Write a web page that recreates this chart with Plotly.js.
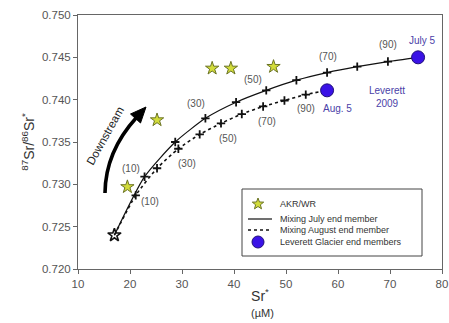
<!DOCTYPE html>
<html>
<head>
<meta charset="utf-8">
<script src="https://cdn.plot.ly/plotly-3.0.1.min.js"></script>
<style>html,body{margin:0;padding:0;background:#fff;}#chart{width:449px;height:323px;}</style>
</head>
<body>
<div id="chart"></div>
<script>
// ---- data ----
const julySr    = [17, 22.8, 28.7, 34.5, 40.4, 46.2, 52.0, 57.9, 63.7, 69.6, 75.4];
const julyRatio = [0.7240, 0.7309, 0.7350, 0.7378, 0.7397, 0.7411, 0.7423, 0.7432, 0.7439, 0.7445, 0.7450];
const augSr     = [17, 21.1, 25.2, 29.3, 33.4, 37.5, 41.5, 45.6, 49.7, 53.8, 57.9];
const augRatio  = [0.7240, 0.7287, 0.7319, 0.7342, 0.7359, 0.7372, 0.7383, 0.7392, 0.7399, 0.7406, 0.7411];
const akrSr     = [19.5, 25.2, 35.8, 39.4, 47.6];
const akrRatio  = [0.7297, 0.7376, 0.7437, 0.7437, 0.7439];
const levSr     = [75.4, 57.9];
const levRatio  = [0.7450, 0.7411];
const levNames  = ['July 5', 'Aug. 5'];
const pctLabels = ['(10)', '(30)', '(50)', '(70)', '(90)'];
const pctIndex  = [1, 3, 5, 7, 9];
const xTicks    = [10, 20, 30, 40, 50, 60, 70, 80];
const yTicks    = [0.720, 0.725, 0.730, 0.735, 0.740, 0.745, 0.750];

// ---- layout helpers (pixel -> paper) ----
const L = 78, R = 442, T = 15, B = 269;
const px = x => (x - L) / (R - L);
const py = y => (B - y) / (B - T);
const FONT = 'Arial, "Liberation Sans", sans-serif';
const GREY = '#555';
const BLUE_TXT = '#4b3fa8';

const traces = [
  {x: julySr, y: julyRatio, mode: 'lines', line: {color: '#111', width: 1.2, shape: 'spline', smoothing: 0.6},
   name: 'Mixing July end member'},
  {x: julySr.slice(1, -1), y: julyRatio.slice(1, -1), mode: 'markers',
   marker: {symbol: 'cross-thin', size: 6, color: '#111', line: {color: '#111', width: 1.8}}, showlegend: false},
  {x: augSr, y: augRatio, mode: 'lines', line: {color: '#111', width: 1.6, dash: 'dot', shape: 'spline', smoothing: 0.6},
   name: 'Mixing August end member'},
  {x: augSr.slice(1, -1), y: augRatio.slice(1, -1), mode: 'markers',
   marker: {symbol: 'cross-thin', size: 6, color: '#111', line: {color: '#111', width: 1.8}}, showlegend: false},
  {x: [julySr[0]], y: [julyRatio[0]], mode: 'markers',
   marker: {symbol: 'star-open', size: 10, color: '#111', line: {color: '#111', width: 1.6}}, showlegend: false},
  {x: akrSr, y: akrRatio, mode: 'markers', name: 'AKR/WR',
   marker: {symbol: 'star', size: 10, color: '#d2dc3a', line: {color: '#6b7424', width: 1}}},
  {x: levSr, y: levRatio, mode: 'markers', name: 'Leverett Glacier end members',
   marker: {symbol: 'circle', size: 13, color: '#3a12e6', line: {color: '#20107a', width: 1}}}
];

const annotations = [];
// mixing percentage labels
const julyOff = [[-14, 8], [-9, 15], [-13, 11], [1, 16], [0, 17.5]];
const augOff  = [[14, -6], [9, -15], [7, -15], [4, -15.5], [0, -14]];
pctLabels.forEach((t, k) => {
  const i = pctIndex[k];
  annotations.push({x: julySr[i], y: julyRatio[i], xref: 'x', yref: 'y', text: t, showarrow: false,
    xanchor: 'center', yanchor: 'middle',
    xshift: julyOff[k][0], yshift: julyOff[k][1], font: {family: FONT, size: 10, color: GREY}});
  annotations.push({x: augSr[i], y: augRatio[i], xref: 'x', yref: 'y', text: t, showarrow: false,
    xanchor: 'center', yanchor: 'middle',
    xshift: augOff[k][0], yshift: augOff[k][1], font: {family: FONT, size: 10, color: GREY}});
});
// Leverett labels
annotations.push({x: levSr[0], y: levRatio[0], xref: 'x', yref: 'y', text: levNames[0], showarrow: false,
  xanchor: 'center', yanchor: 'middle', xshift: 4, yshift: 17, font: {family: FONT, size: 10, color: BLUE_TXT}});
annotations.push({x: levSr[1], y: levRatio[1], xref: 'x', yref: 'y', text: levNames[1], showarrow: false,
  xanchor: 'center', yanchor: 'middle', xshift: 10, yshift: -18, font: {family: FONT, size: 10, color: BLUE_TXT}});
annotations.push({x: px(387), y: py(96.5), xref: 'paper', yref: 'paper', text: 'Leverett<br>2009', showarrow: false,
  xanchor: 'center', yanchor: 'middle', font: {family: FONT, size: 10, color: BLUE_TXT}});
// Downstream text
annotations.push({x: px(105), y: py(136), xref: 'paper', yref: 'paper', text: 'Downstream', showarrow: false,
  xanchor: 'center', yanchor: 'middle', textangle: -61, font: {family: FONT, size: 11.5, color: '#222'}});
// unit under x title
annotations.push({x: px(262), y: py(313), xref: 'paper', yref: 'paper', text: '(µM)', showarrow: false,
  xanchor: 'center', yanchor: 'middle', font: {family: FONT, size: 11, color: '#333'}});
// legend texts
const legTexts = ['AKR/WR', 'Mixing July end member', 'Mixing August end member', 'Leverett Glacier end members'];
const legY = [204, 219, 230, 242];
legTexts.forEach((t, k) => {
  annotations.push({x: px(278), y: py(legY[k]), xref: 'paper', yref: 'paper', xanchor: 'left', yanchor: 'middle',
    text: t, showarrow: false, font: {family: FONT, size: 9, color: '#333'}});
});

// shapes: arrow + legend symbols
const shapes = [];
const P = (x, y) => px(x) + ',' + py(y);
shapes.push({type: 'path', xref: 'paper', yref: 'paper',
  path: 'M ' + P(105, 193) + ' Q ' + P(105.4, 151.7) + ' ' + P(136.5, 117.5),
  line: {color: '#000', width: 3.6}});
shapes.push({type: 'path', xref: 'paper', yref: 'paper',
  path: 'M ' + P(146, 107) + ' L ' + P(140.5, 123) + ' L ' + P(130.5, 114) + ' Z',
  fillcolor: '#000', line: {color: '#000', width: 1}});
// legend box
shapes.push({type: 'rect', xref: 'paper', yref: 'paper', x0: px(242), x1: px(422), y0: py(256), y1: py(189),
  line: {color: '#444', width: 1}, fillcolor: 'rgba(255,255,255,0)'});
shapes.push({type: 'line', xref: 'paper', yref: 'paper', x0: px(248), x1: px(272), y0: py(219), y1: py(219),
  line: {color: '#111', width: 1.2}});
shapes.push({type: 'line', xref: 'paper', yref: 'paper', x0: px(248), x1: px(272), y0: py(230), y1: py(230),
  line: {color: '#111', width: 1.6, dash: 'dot'}});
shapes.push({type: 'circle', xref: 'paper', yref: 'paper', x0: px(252), x1: px(264), y0: py(248), y1: py(236),
  fillcolor: '#3a12e6', line: {color: '#20107a', width: 1}});
(function () {
  const cx = 258, cy = 204; let d = '';
  for (let i = 0; i < 10; i++) {
    const a = (-90 + i * 36) * Math.PI / 180, r = (i % 2 === 0) ? 6 : 2.5;
    d += (i === 0 ? 'M ' : ' L ') + P(cx + r * Math.cos(a), cy + r * Math.sin(a));
  }
  shapes.push({type: 'path', xref: 'paper', yref: 'paper', path: d + ' Z',
    fillcolor: '#d2dc3a', line: {color: '#6b7424', width: 1}});
})();

const axisBase = {showline: true, mirror: true, linecolor: '#666', linewidth: 1, ticks: 'outside', ticklen: 4,
  tickcolor: '#666', showgrid: false, zeroline: false, tickfont: {family: FONT, size: 11.5, color: GREY}};

const layout = {
  width: 449, height: 323,
  margin: {l: L, r: 449 - R, t: T, b: 323 - B},
  paper_bgcolor: '#fff', plot_bgcolor: '#fff',
  showlegend: false,
  font: {family: FONT},
  xaxis: Object.assign({}, axisBase, {range: [10, 80], tickvals: xTicks, ticktext: xTicks.map(String),
    title: {text: 'Sr<sup>*</sup>', standoff: 2, font: {family: FONT, size: 14, color: '#333'}}}),
  yaxis: Object.assign({}, axisBase, {range: [0.72, 0.75], tickvals: yTicks, ticktext: yTicks.map(v => v.toFixed(3)),
    title: {text: '<sup>87</sup>Sr/<sup>86</sup>Sr<sup>*</sup>', standoff: 4,
      font: {family: FONT, size: 14, color: '#333'}}}),
  annotations: annotations,
  shapes: shapes
};

Plotly.newPlot('chart', traces, layout, {displayModeBar: false, staticPlot: true});
</script>
</body>
</html>
